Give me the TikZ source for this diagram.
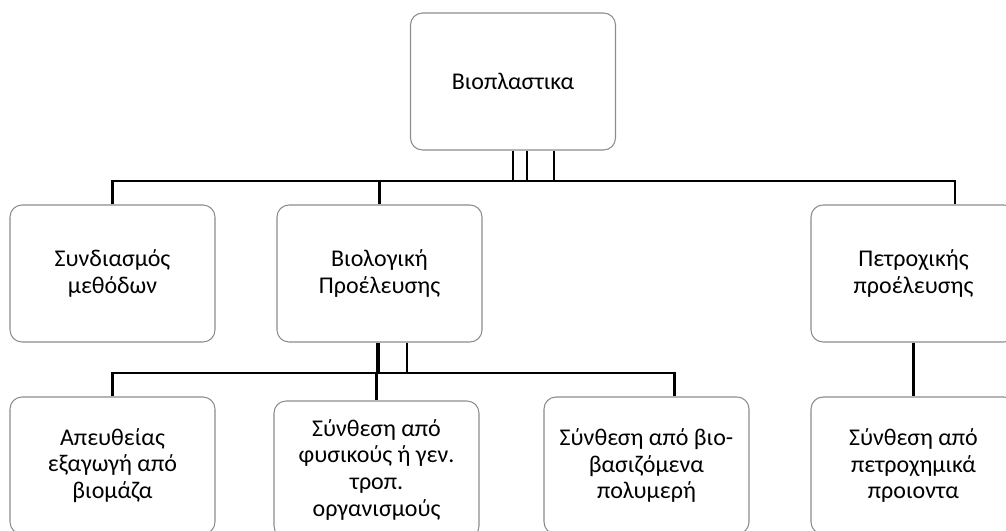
\documentclass[tikz,border=0pt]{standalone}
\usepackage{fontspec}
\setmainfont{Carlito}

\begin{document}
\begin{tikzpicture}[x=0.75pt, y=-0.75pt,
boxnode/.style={rectangle, rounded corners=9pt, draw=black!45, line width=0.8pt, fill=white, minimum width=153.75pt, minimum height=102.75pt, align=center, font=\fontsize{18pt}{20pt}\selectfont},
linkline/.style={line width=1.7pt, draw=black},
]
    \useasboundingbox (0,0) rectangle (1006,531);
    \clip (0,0) rectangle (1006,531);

    \node[boxnode]      (bioplast)      at (513,81.5)       {Βιοπλαστικα};
    \node[boxnode]      (comb)          at (112.5,273.5)    {Συνδιασμός\\μεθόδων};
    \node[boxnode]      (biol)          at (379.5,273.5)    {Βιολογική\\Προέλευσης};
    \node[boxnode]      (petro)         at (913.5,273.5)    {Πετροχικής\\προέλευσης};
    \node[boxnode]      (direct)        at (112.5,465.5)    {Απευθείας\\εξαγωγή από\\βιομάζα};
    \node[boxnode]      (natural)       at (376.5,469.5)    {Σύνθεση από\\φυσικούς ή γεν.\\τροπ.\\οργανισμούς};
    \node[boxnode]      (biobased)      at (646.5,465.5)    {Σύνθεση από βιο-\\βασιζόμενα\\πολυμερή};
    \node[boxnode]      (petrochem)     at (913.5,465.5)    {Σύνθεση από\\πετροχημικά\\προιοντα};

    \coordinate (topbar) at (0,181);
    \coordinate (midbar) at (0,373);

    % first level
    \foreach \dx in {0,14,41}
        \draw[linkline] ([xshift=\dx*0.75pt]bioplast.south) -- ([xshift=\dx*0.75pt]bioplast.south |- topbar);
    \draw[linkline] (comb.north) |- ([xshift=31.125pt]petro.north |- topbar) -- ([xshift=31.125pt]petro.north);
    \draw[linkline] (biol.north) -- (biol.north |- topbar);

    % second level
    \foreach \dx in {-2.5,-0.5,27.5}
        \draw[linkline] ([xshift=\dx*0.75pt]biol.south) -- ([xshift=\dx*0.75pt]biol.south |- midbar);
    \draw[linkline] (direct.north) |- ([xshift=21pt]biobased.north |- midbar) -- ([xshift=21pt]biobased.north);
    \draw[linkline] (natural.north) -- (natural.north |- midbar);
    \draw[linkline] (petro.south) -- (petrochem.north);
\end{tikzpicture}
\end{document}
